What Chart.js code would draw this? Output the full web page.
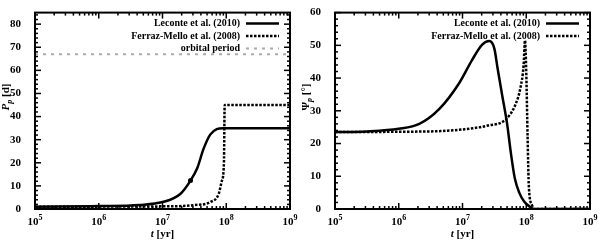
<!DOCTYPE html>
<html>
<head>
<meta charset="utf-8">
<script src="https://cdn.jsdelivr.net/npm/chart.js@4.4.1/dist/chart.umd.min.js"></script>
<style>
  body { margin: 0; background: #fff; }
  #wrap { display: flex; width: 600px; height: 240px; }
  canvas { display: block; }
</style>
</head>
<body>
<div id="wrap">
  <canvas id="left" width="300" height="240"></canvas>
  <canvas id="right" width="300" height="240"></canvas>
</div>
<script>
// series names
const seriesNames = ['Leconte et al. (2010)', 'Ferraz-Mello et al. (2008)', 'orbital period'];
const decadeExponents = [5, 6, 7, 8, 9];

// left panel: rotation period P_p [d] vs t [yr]
const lecTimeP = [1e5, 1e6, 4.4e6, 1e7, 1.9e7, 2.75e7, 3.5e7, 4.4e7, 5.6e7, 7.1e7, 8.9e7, 1e9];
const lecPeriod = [1.0, 1.25, 1.75, 3.0, 6.5, 12.3, 17.6, 26, 32.2, 34.6, 35, 35];
const fmTimeP = [1e5, 1e7, 3.2e7, 5.6e7, 7.6e7, 8.5e7, 9.2e7, 9.45e7, 1e9];
const fmPeriod = [1.0, 1.15, 1.7, 3.0, 6.5, 12, 20, 45, 45];
const orbitTime = [1e5, 1e9];
const orbitPeriod = [67, 67];
const dotTime = [2.75e7];
const dotPeriod = [12.3];

// right panel: obliquity Psi_p [deg] vs t [yr]
const lecTimePsi = [1e5, 3.16e5, 1e6, 2.1e6, 4.3e6, 8.9e6, 1.41e7, 2.04e7, 2.63e7, 3.16e7, 3.55e7,
  4.17e7, 5.01e7, 5.75e7, 6.6e7, 7.76e7, 9.33e7, 1.12e8, 1.32e8, 1e9];
const lecObliq = [23.5, 23.7, 24.5, 26, 30.5, 38.5, 45.5, 50.2, 51.3, 49, 43,
  35, 26, 17, 9.5, 5, 2.2, 0.8, 0, 0];
const fmTimePsi = [1e5, 1e6, 4.5e6, 1e7, 2.5e7, 4.8e7, 6.8e7, 8.1e7, 9.1e7, 9.55e7, 1e8,
  1.05e8, 1.1e8, 1.23e8, 1.32e8, 1e9];
const fmObliq = [23.5, 23.6, 23.8, 24.3, 25.5, 27.4, 32, 37, 44, 51.5, 41.8,
  22, 6.6, 1.2, 0, 0];

const serif = 'Liberation Serif';
const pts = (xs, ys) => xs.map((v, i) => ({ x: v, y: ys[i] }));

function richText(ctx, parts, x, y) {
  // draws text pieces centred at x, baseline y
  let w = 0;
  parts.forEach(p => { ctx.font = p.f; p.w = ctx.measureText(p.t).width; w += p.w; });
  let cx = x - w / 2;
  parts.forEach(p => {
    ctx.font = p.f;
    ctx.fillText(p.t, cx, y + (p.dy || 0));
    cx += p.w;
  });
}

const frameTicks = {
  id: 'frameTicks',
  afterDatasetsDraw(chart, args, opts) {
    const { ctx, chartArea: a, scales: { x, y } } = chart;
    ctx.save();
    ctx.strokeStyle = '#000';
    ctx.fillStyle = '#000';
    ctx.lineWidth = 1.5;
    const seg = (x0, y0, x1, y1) => { ctx.beginPath(); ctx.moveTo(x0, y0); ctx.lineTo(x1, y1); ctx.stroke(); };

    // log ticks, inward on top and bottom
    for (let e = 5; e < 9; e++) {
      for (let m = 1; m < 10; m++) {
        const px = x.getPixelForValue(m * Math.pow(10, e));
        const len = m === 1 ? 6 : 3;
        seg(px, a.bottom, px, a.bottom - len);
        seg(px, a.top, px, a.top + len);
      }
    }
    // y ticks every 2, inward on both sides
    for (let v = 0; v <= y.max; v += 2) {
      const py = y.getPixelForValue(v);
      const len = v % 10 === 0 ? 6 : 3;
      seg(a.left, py, a.left + len, py);
      seg(a.right, py, a.right - len, py);
    }
    ctx.lineWidth = 2;
    ctx.strokeRect(a.left, a.top, a.width, a.height);

    // x tick labels 10^n
    ctx.textAlign = 'left';
    ctx.textBaseline = 'alphabetic';
    decadeExponents.forEach(n => {
      const px = x.getPixelForValue(Math.pow(10, n));
      richText(ctx, [
        { t: '10', f: `bold 11px "${serif}"` },
        { t: String(n), f: `bold 8px "${serif}"`, dy: -5 }
      ], px, 225);
    });

    // x title
    richText(ctx, [
      { t: 't', f: `italic bold 11px "${serif}"` },
      { t: ' [yr]', f: `bold 11px "${serif}"` }
    ], (a.left + a.right) / 2, 237);

    // y title, rotated
    ctx.save();
    ctx.translate(9, 97);
    ctx.rotate(-Math.PI / 2);
    richText(ctx, opts.yTitle, 0, 0);
    ctx.restore();

    // legend, text right-aligned with line sample on its right
    let row = 0;
    chart.data.datasets.forEach(ds => {
      if (!ds.label) return;
      const ly = a.top + 11 + row * 12.5;
      ctx.font = `bold 10px "${serif}"`;
      ctx.textAlign = 'right';
      ctx.textBaseline = 'middle';
      ctx.fillText(ds.label, 240, ly);
      ctx.save();
      ctx.strokeStyle = ds.borderColor;
      ctx.lineWidth = ds.borderWidth;
      ctx.setLineDash(ds.borderDash || []);
      seg(246, ly, 279, ly);
      ctx.restore();
      row++;
    });
    ctx.restore();
  }
};

function panelOptions(yMax, yTitle) {
  return {
    responsive: false,
    animation: false,
    devicePixelRatio: 1,
    layout: { padding: { left: 0, right: 10, top: 5, bottom: 0 } },
    plugins: {
      legend: { display: false },
      tooltip: { enabled: false },
      frameTicks: { yTitle }
    },
    elements: { point: { radius: 0 } },
    scales: {
      x: {
        type: 'logarithmic', min: 1e5, max: 1e9,
        ticks: { display: false },
        grid: { display: false },
        border: { display: false },
        afterFit(s) { s.height = 31; }
      },
      y: {
        min: 0, max: yMax,
        ticks: {
          stepSize: 10, includeBounds: false, color: '#000', padding: 6,
          font: { family: serif, weight: 'bold', size: 11 }
        },
        grid: { display: false },
        border: { display: false },
        afterFit(s) { s.width = 35; }
      }
    }
  };
}

const solid = { borderColor: '#000', borderWidth: 2.5, cubicInterpolationMode: 'monotone', fill: false };
const dashed = { borderColor: '#000', borderWidth: 2.5, borderDash: [2.5, 1.5], cubicInterpolationMode: 'monotone', fill: false };

new Chart(document.getElementById('left'), {
  type: 'line',
  data: {
    datasets: [
      { label: seriesNames[0], data: pts(lecTimeP, lecPeriod), ...solid },
      { label: seriesNames[1], data: pts(fmTimeP, fmPeriod), ...dashed },
      { label: seriesNames[2], data: pts(orbitTime, orbitPeriod), borderColor: '#aaa', borderWidth: 2, borderDash: [3, 5] },
      { data: pts(dotTime, dotPeriod), showLine: false, pointRadius: 2.5, pointBackgroundColor: '#000', pointBorderWidth: 0 }
    ]
  },
  options: panelOptions(85, [
    { t: 'P', f: `italic bold 11px "${serif}"` },
    { t: 'p', f: `italic bold 8px "${serif}"`, dy: 3 },
    { t: ' [d]', f: `bold 11px "${serif}"` }
  ]),
  plugins: [frameTicks]
});

new Chart(document.getElementById('right'), {
  type: 'line',
  data: {
    datasets: [
      { label: seriesNames[0], data: pts(lecTimePsi, lecObliq), ...solid },
      { label: seriesNames[1], data: pts(fmTimePsi, fmObliq), ...dashed }
    ]
  },
  options: panelOptions(60, [
    { t: 'Ψ', f: `bold 11px "${serif}"` },
    { t: 'p', f: `italic bold 8px "${serif}"`, dy: 3 },
    { t: ' [°]', f: `bold 11px "${serif}"` }
  ]),
  plugins: [frameTicks]
});
</script>
</body>
</html>
